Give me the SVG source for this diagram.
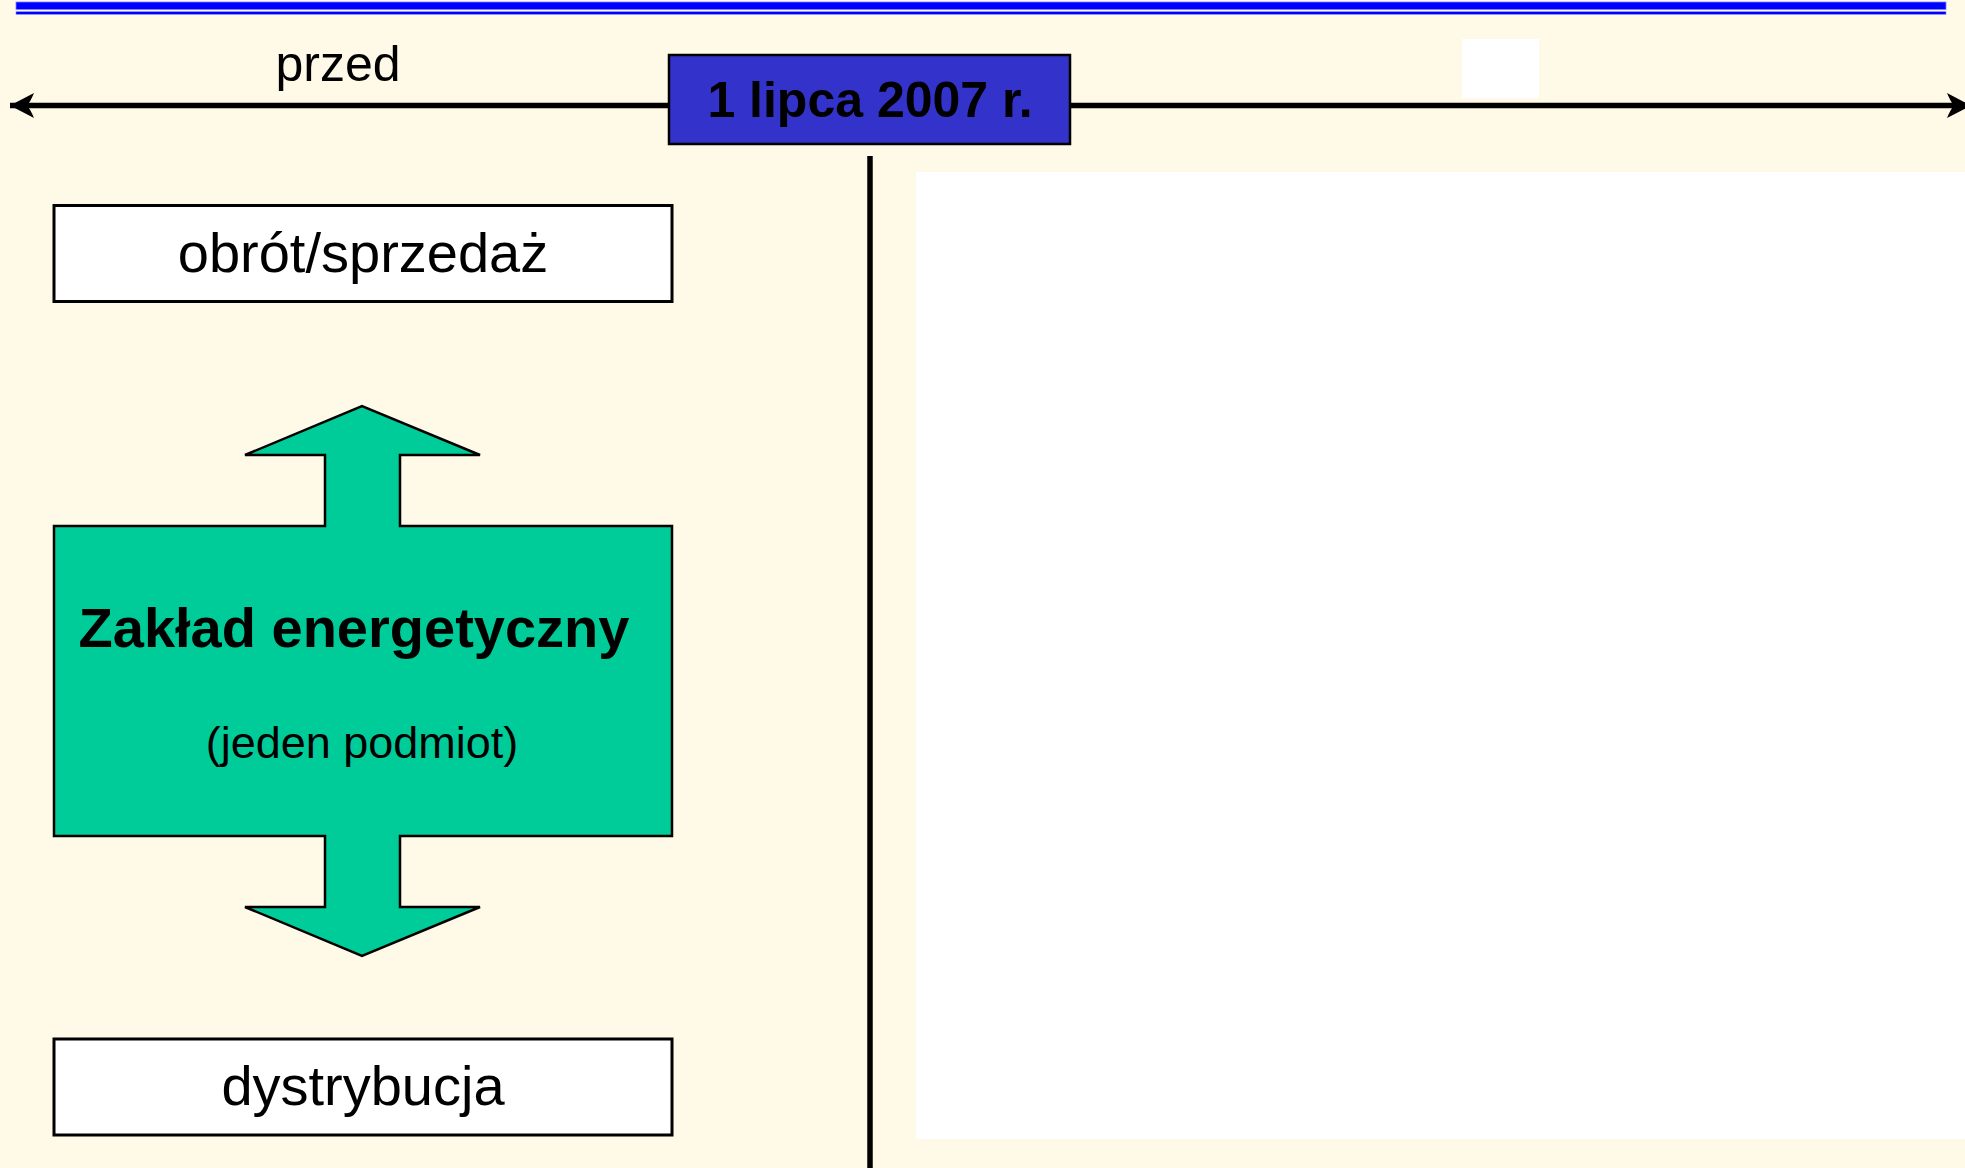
<svg xmlns="http://www.w3.org/2000/svg" width="1965" height="1168" viewBox="0 0 1965 1168">
<defs>
<style>
.t{font-family:"Liberation Sans",Arial,sans-serif;fill:#000}
.box{fill:#fff;stroke:#000;stroke-width:3}
.ln{stroke:#000;stroke-width:5.5;fill:none}
</style>
<marker id="ah" viewBox="-2 -14 28 28" markerWidth="28" markerHeight="28" refX="24" refY="0" orient="auto-start-reverse" markerUnits="userSpaceOnUse">
<path d="M24,0 L0,-12.5 Q4,-3 7,0 Q4,3 0,12.5 Z" fill="#000"/>
</marker>
</defs>
<rect width="1965" height="1168" fill="#FEFAE7"/>
<rect x="916" y="172" width="1049" height="967" fill="#fff"/>
<rect x="1462" y="39" width="77" height="59" fill="#fff"/>
<rect x="16" y="2" width="1930" height="7.5" fill="#0000FF" stroke="#8080FF" stroke-width="0.8"/>
<rect x="16" y="11.7" width="1930" height="2.6" fill="#0000FF" stroke="#8080FF" stroke-width="0.6"/>
<g id="connectors">
<line class="ln" x1="10" y1="105.5" x2="1971" y2="105.5" marker-start="url(#ah)" marker-end="url(#ah)"/>
<line class="ln" x1="870" y1="156" x2="870" y2="1168"/>
</g>
<g id="label-przed"><text class="t" x="338" y="81" font-size="50" text-anchor="middle">przed</text></g>
<g id="date">
<rect x="669" y="55" width="401" height="89" fill="#3333CC" stroke="#000" stroke-width="2.5"/>
<text class="t" x="870" y="117" font-size="50" font-weight="bold" text-anchor="middle">1 lipca 2007 r.</text>
</g>
<g id="obrot">
<rect class="box" x="54" y="205.5" width="618" height="96"/>
<text class="t" x="363" y="272" font-size="56" text-anchor="middle">obrót/sprzedaż</text>
</g>
<g id="zaklad">
<polygon points="54,526 325,526 325,455 245,455 362,406 480,455 400,455 400,526 672,526 672,836 400,836 400,907 480,907 362,956 245,907 325,907 325,836 54,836" fill="#00CC99" stroke="#000" stroke-width="2.5" stroke-linejoin="miter"/>
<text class="t" x="354" y="647" font-size="56" font-weight="bold" text-anchor="middle">Zakład energetyczny</text>
<text class="t" x="362" y="758" font-size="45" text-anchor="middle">(jeden podmiot)</text>
</g>
<g id="dystrybucja">
<rect class="box" x="54" y="1039" width="618" height="96"/>
<text class="t" x="363" y="1105" font-size="56" text-anchor="middle">dystrybucja</text>
</g>
</svg>
